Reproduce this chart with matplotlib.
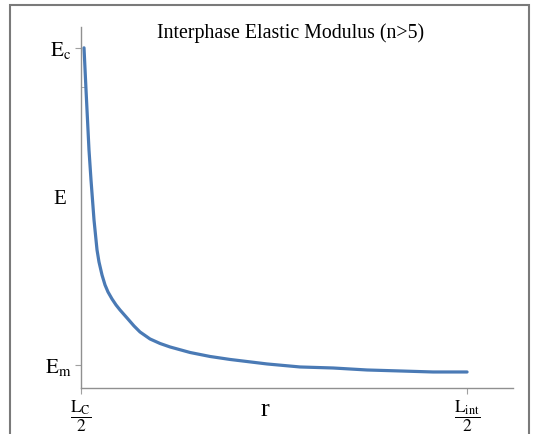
import matplotlib
matplotlib.use('Agg')
import matplotlib.pyplot as plt
from matplotlib.patches import Rectangle

plt.rcParams['font.family'] = 'Liberation Serif'
plt.rcParams['mathtext.fontset'] = 'stix'

# curve: r scaled 0 (Lc/2) .. 1 (Lint/2), E scaled 0 (Em) .. 1 (Ec)
r = [0.0078, 0.013, 0.0207, 0.0259, 0.0298, 0.0337, 0.0376, 0.0415, 0.0466,
     0.0544, 0.0622, 0.0699, 0.0803, 0.0907, 0.101, 0.1192, 0.1373, 0.1528,
     0.1788, 0.2047, 0.2306, 0.2824, 0.3342, 0.386, 0.4819, 0.5674, 0.6528,
     0.7409, 0.8264, 0.9119, 1.0]
E = [1.0, 0.8675, 0.678, 0.5836, 0.5205, 0.4574, 0.410, 0.3628, 0.3249,
     0.2839, 0.2524, 0.2303, 0.2082, 0.1893, 0.1735, 0.1483, 0.123, 0.1041,
     0.082, 0.0678, 0.0568, 0.0394, 0.0268, 0.0174, 0.0032, -0.0063, -0.0095,
     -0.0158, -0.0189, -0.0221, -0.0221]

x_ticks = [0, 1]
x_labels = [r'$\dfrac{\mathrm{L_C}}{2}$', r'$\dfrac{\mathrm{L_{int}}}{2}$']
y_ticks = [0, 1]
y_labels = [r'$\mathrm{E_m}$', r'$\mathrm{E_c}$']

fig = plt.figure(figsize=(5.4, 4.34), dpi=100)
ax = fig.add_axes([0.15, 0.106, 0.80, 0.832])

ax.plot(r, E, color='#4a7ab5', linewidth=2.3, solid_capstyle='round',
        solid_joinstyle='round')

ax.set_xlim(0, 1.119)
ax.set_ylim(-0.0726, 1.066)
ax.set_xticks(x_ticks)
ax.set_xticklabels(x_labels, fontsize=12.5)
ax.set_yticks(y_ticks)
ax.set_yticklabels(y_labels, fontsize=15)
ax.set_yticks([0.876], minor=True)
ax.tick_params(axis='y', which='minor', direction='in', length=3, color='#a0a0a0')
ax.tick_params(which='major', color='#a0a0a0', length=4, pad=3)

for s in ['top', 'right']:
    ax.spines[s].set_visible(False)
for s in ['left', 'bottom']:
    ax.spines[s].set_color('#909090')
    ax.spines[s].set_linewidth(1.0)

fig.text(60 / 540, 1 - 200 / 434, 'E', fontsize=15, ha='center', va='center')
fig.text(265 / 540, 1 - 410 / 434, 'r', fontsize=19, ha='center', va='center')
fig.text(291 / 540, 1 - 33 / 434, 'Interphase Elastic Modulus (n>5)',
         fontsize=14.3, ha='center', va='center')

# outer frame
fig.patches.append(Rectangle((10 / 540, -0.05), 519 / 540, 1.05 - 5 / 434,
                             transform=fig.transFigure, fill=False,
                             edgecolor='#7a7a7a', linewidth=1.5))

fig.savefig('out.png', dpi=100)
